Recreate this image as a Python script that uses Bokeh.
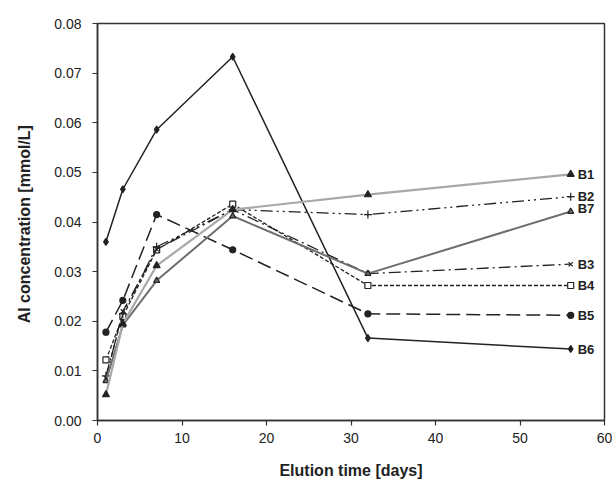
from bokeh.plotting import figure
from bokeh.models import ColumnDataSource, Range1d, FixedTicker, CustomJSTickFormatter
from bokeh.core.properties import value
from bokeh.embed import file_html
from bokeh.resources import INLINE

days = [1, 3, 7, 16, 32, 56]
B1 = [0.0052, 0.0195, 0.0312, 0.0425, 0.0455, 0.0496]
B2 = [0.0090, 0.0215, 0.0350, 0.0425, 0.0415, 0.0451]
B3 = [0.0085, 0.0220, 0.0345, 0.0425, 0.0296, 0.0315]
B4 = [0.0122, 0.0210, 0.0344, 0.0436, 0.0272, 0.0272]
B5 = [0.0178, 0.0242, 0.0415, 0.0344, 0.0215, 0.0212]
B6 = [0.0360, 0.0466, 0.0586, 0.0733, 0.0166, 0.0144]
B7 = [0.0080, 0.0192, 0.0282, 0.0412, 0.0296, 0.0421]
names = ["B1", "B2", "B3", "B4", "B5", "B6", "B7"]
x_ticks = [0, 10, 20, 30, 40, 50, 60]
y_ticks = [0.00, 0.01, 0.02, 0.03, 0.04, 0.05, 0.06, 0.07, 0.08]

series = {"B1": B1, "B2": B2, "B3": B3, "B4": B4, "B5": B5, "B6": B6, "B7": B7}
styles = {
    "B1": dict(color="#a8a8a8", width=2.2, dash="solid", marker="triangle", fill="#222222", size=7, label_dy=0),
    "B2": dict(color="#222222", width=1.3, dash="12 4 2 4 2 4", marker="cross", fill="#222222", size=8, label_dy=0),
    "B3": dict(color="#222222", width=1.3, dash="12 4 2 4", marker="x", fill="#222222", size=6, label_dy=0),
    "B4": dict(color="#222222", width=1.3, dash="4 2", marker="square", fill="white", size=6, label_dy=0),
    "B5": dict(color="#222222", width=1.5, dash="14 6", marker="circle", fill="#222222", size=6, label_dy=0),
    "B6": dict(color="#222222", width=1.5, dash="solid", marker="diamond", fill="#222222", size=7, label_dy=0),
    "B7": dict(color="#6e6e6e", width=2.0, dash="solid", marker="triangle", fill="#6e6e6e", size=6, label_dy=-3),
}

p = figure(width=612, height=481, output_backend="svg", toolbar_location=None,
           x_range=Range1d(0, 60), y_range=Range1d(0, 0.08),
           min_border_left=97, min_border_right=8, min_border_top=23, min_border_bottom=58)
p.outline_line_color = "#333333"
p.outline_line_width = 1.5
p.xgrid.visible = False
p.ygrid.visible = False
p.background_fill_color = "white"

for nm in ["B6", "B5", "B4", "B3", "B2", "B7", "B1"]:
    s = styles[nm]
    src = ColumnDataSource(dict(x=days, y=series[nm]))
    p.line("x", "y", source=src, line_color=s["color"], line_width=s["width"], line_dash=s["dash"])
    p.scatter("x", "y", source=src, marker=s["marker"], size=s["size"], line_color="#222222",
              fill_color=s["fill"], line_width=1.2)

for nm in names:
    s = styles[nm]
    src = ColumnDataSource(dict(x=[days[-1]], y=[series[nm][-1]], t=[nm]))
    p.text("x", "y", text="t", source=src, x_offset=7, y_offset=s["label_dy"],
           text_font=value("Liberation Sans"), text_font_size="13px", text_font_style="bold",
           text_color="#222222", text_baseline="middle", text_align="left")

p.xaxis.ticker = FixedTicker(ticks=x_ticks)
p.yaxis.ticker = FixedTicker(ticks=y_ticks)
p.yaxis.formatter = CustomJSTickFormatter(code="return tick.toFixed(2);")
for ax in (p.xaxis[0], p.yaxis[0]):
    ax.major_tick_in = 0
    ax.major_tick_out = 5
    ax.minor_tick_in = 0
    ax.minor_tick_out = 0
    ax.axis_line_color = "#333333"
    ax.axis_line_width = 1.5
    ax.major_tick_line_color = "#333333"
    ax.major_tick_line_width = 1.2
    ax.major_label_text_font = "Liberation Sans"
    ax.major_label_text_font_size = "14px"
    ax.major_label_text_color = "#222222"
    ax.axis_label_text_font = "Liberation Sans"
    ax.axis_label_text_font_size = "16px"
    ax.axis_label_text_font_style = "bold"
    ax.axis_label_text_color = "#222222"
p.xaxis.axis_label = "Elution time [days]"
p.yaxis.axis_label = "Al concentration  [mmol/L]"
p.xaxis.axis_label_standoff = 16
p.yaxis.axis_label_standoff = 18
p.yaxis.major_label_standoff = 11
p.xaxis.major_label_standoff = 7

open("out.html", "w").write(file_html(p, INLINE))
